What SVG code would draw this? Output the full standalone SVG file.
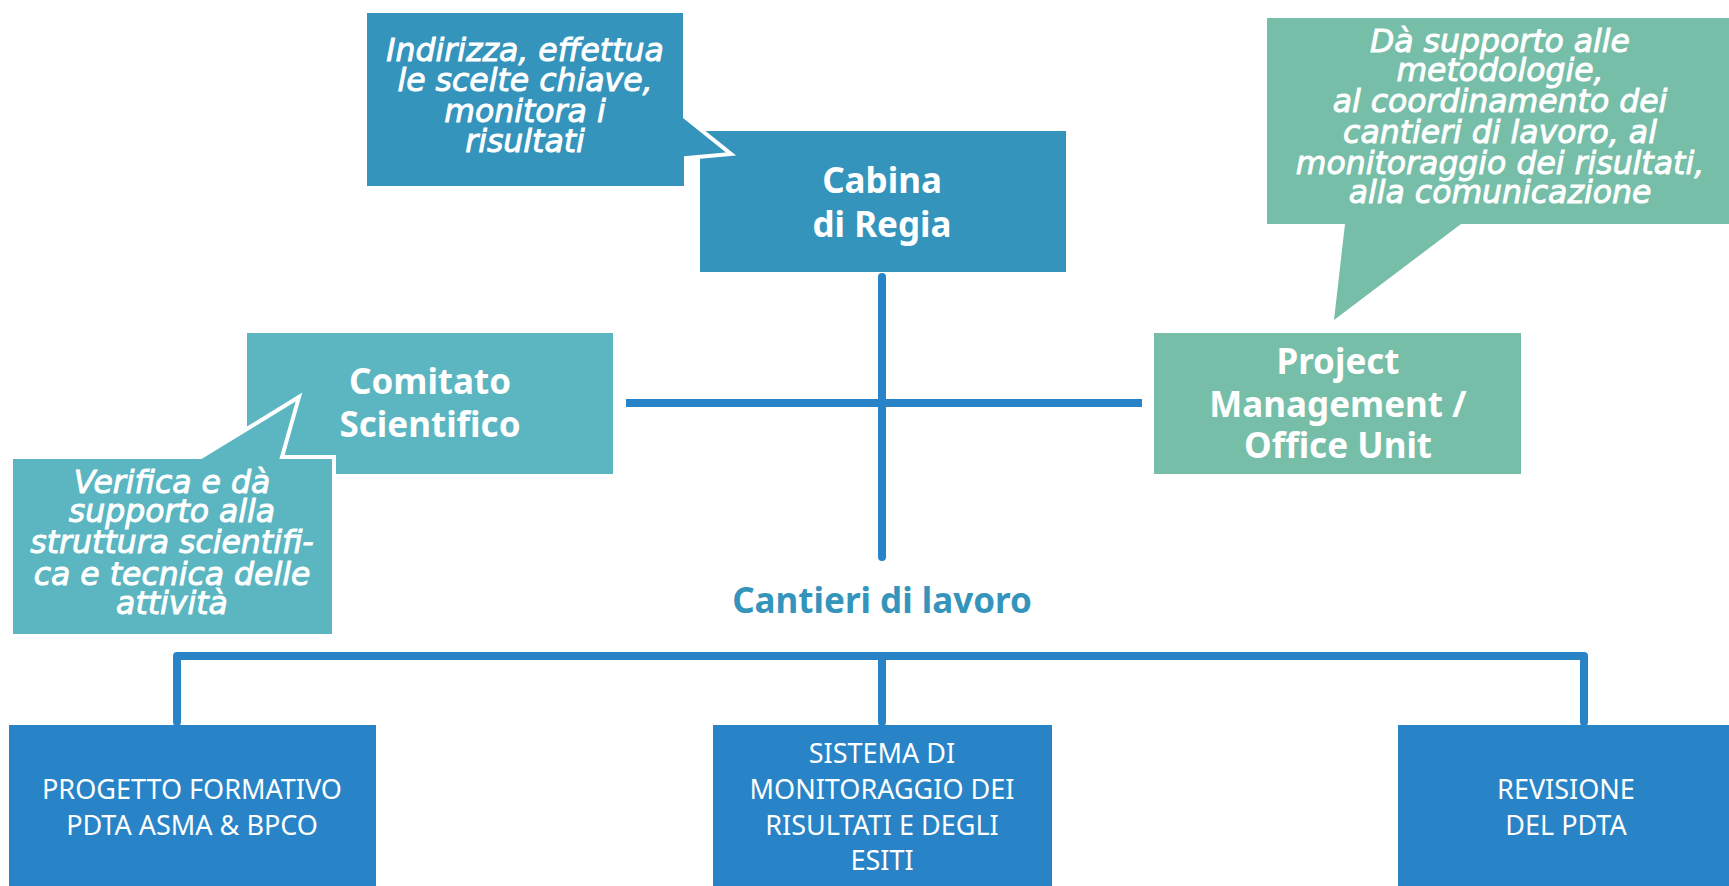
<svg xmlns="http://www.w3.org/2000/svg" width="1729" height="886" viewBox="0 0 1729 886">
<style>
.t{font-family:"Noto Sans","DejaVu Sans",sans-serif;fill:#fff;text-anchor:middle}
.h{font-size:35px;font-weight:bold}
.c{font-family:"DejaVu Sans","Noto Sans",sans-serif;font-size:31.5px;font-style:italic;font-weight:normal;stroke:#fff;stroke-width:0.9px}
.b{font-size:27px}
.ln{stroke:#2884C6;stroke-width:8;fill:none}
.blue{fill:#3594BB}
.teal{fill:#5BB6C1}
.green{fill:#76BEA7}
.dark{fill:#2884C6}
.callout{stroke:#fff;stroke-width:4;stroke-linejoin:miter}
</style>
<rect width="1729" height="886" fill="#fff"/>
<g id="connectors">
<line class="ln" x1="882" y1="277" x2="882" y2="557" stroke-linecap="round"/>
<line class="ln" x1="626" y1="403" x2="1142" y2="403"/>
<path class="ln" d="M177,722 V656 H1584 V722" stroke-linecap="round" stroke-linejoin="round"/>
<line class="ln" x1="882" y1="656" x2="882" y2="722" stroke-linecap="round"/>
</g>
<g id="cabina">
<rect class="blue" x="700" y="131" width="366" height="141"/>
<text class="t h" x="882" y="193">Cabina</text>
<text class="t h" x="882" y="237">di Regia</text>
</g>
<g id="callout-indirizza">
<path class="blue callout" d="M365,11 H685 V117 L731,154 L686,158 V188 H365 Z"/>
<text class="t c" x="525" y="61">Indirizza, effettua</text>
<text class="t c" x="525" y="91">le scelte chiave,</text>
<text class="t c" x="525" y="122">monitora i</text>
<text class="t c" x="525" y="152">risultati</text>
</g>
<g id="comitato">
<rect class="teal" x="247" y="333" width="366" height="141"/>
<text class="t h" x="430" y="394">Comitato</text>
<text class="t h" x="430" y="437">Scientifico</text>
</g>
<g id="callout-verifica">
<path class="teal callout" d="M11,457 H201 L299,397 L282,457 H334 V636 H11 Z"/>
<text class="t c" x="172" y="493">Verifica e dà</text>
<text class="t c" x="172" y="522">supporto alla</text>
<text class="t c" x="172" y="553">struttura scientifi-</text>
<text class="t c" x="172" y="585">ca e tecnica delle</text>
<text class="t c" x="172" y="614">attività</text>
</g>
<g id="project">
<rect class="green" x="1154" y="333" width="367" height="141"/>
<text class="t h" x="1338" y="374">Project</text>
<text class="t h" x="1338" y="417">Management /</text>
<text class="t h" x="1338" y="458">Office Unit</text>
</g>
<g id="callout-supporto">
<path class="green" d="M1267,18 H1729 V224 H1461 L1334,320 L1345,224 H1267 Z"/>
<text class="t c" x="1500" y="52">Dà supporto alle</text>
<text class="t c" x="1500" y="81">metodologie,</text>
<text class="t c" x="1500" y="112">al coordinamento dei</text>
<text class="t c" x="1500" y="143">cantieri di lavoro, al</text>
<text class="t c" x="1500" y="174">monitoraggio dei risultati,</text>
<text class="t c" x="1500" y="203">alla comunicazione</text>
</g>
<g id="cantieri-label">
<text x="882" y="613" style="font-family:'Noto Sans','DejaVu Sans',sans-serif;font-size:35px;font-weight:bold;fill:#3594BB;text-anchor:middle">Cantieri di lavoro</text>
</g>
<g id="progetto">
<rect class="dark" x="9" y="725" width="367" height="161"/>
<text class="t b" x="192" y="799">PROGETTO FORMATIVO</text>
<text class="t b" x="192" y="835">PDTA ASMA &amp; BPCO</text>
</g>
<g id="sistema">
<rect class="dark" x="713" y="725" width="339" height="161"/>
<text class="t b" x="882" y="763">SISTEMA DI</text>
<text class="t b" x="882" y="799">MONITORAGGIO DEI</text>
<text class="t b" x="882" y="835">RISULTATI E DEGLI</text>
<text class="t b" x="882" y="870">ESITI</text>
</g>
<g id="revisione">
<rect class="dark" x="1398" y="725" width="331" height="161"/>
<text class="t b" x="1566" y="799">REVISIONE</text>
<text class="t b" x="1566" y="835">DEL PDTA</text>
</g>
</svg>
